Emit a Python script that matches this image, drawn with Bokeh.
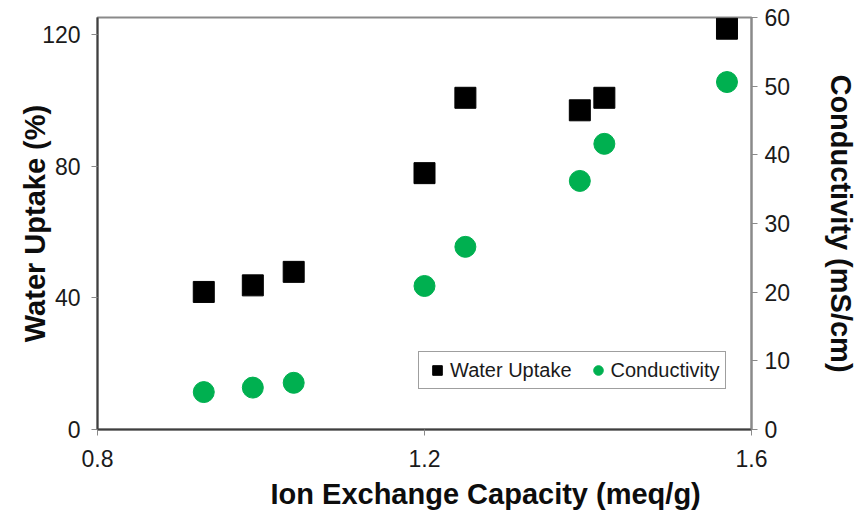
from bokeh.plotting import figure
from bokeh.models import (LinearAxis, Range1d, FixedTicker, Legend, LegendItem,
                          Title, ColumnDataSource)
from bokeh.embed import file_html
from bokeh.resources import INLINE

# ---- data ----
ion_capacity = [0.93, 0.99, 1.04, 1.20, 1.25, 1.39, 1.42, 1.57]
water_uptake = [41.8, 43.8, 47.9, 77.9, 100.8, 97.0, 100.8, 121.8]
conductivity = [5.45, 6.1, 6.8, 20.9, 26.6, 36.2, 41.6, 50.6]

x_ticks = [0.8, 1.2, 1.6]
left_ticks = [0, 40, 80, 120]
right_ticks = [0, 10, 20, 30, 40, 50, 60]

FONT = "Liberation Sans"
GREEN = "#00B050"

src = ColumnDataSource(dict(x=ion_capacity, wu=water_uptake, cond=conductivity))

p = figure(width=860, height=517, output_backend="svg", toolbar_location=None,
           x_range=Range1d(0.8, 1.6), y_range=Range1d(0, 125.2),
           min_border_left=97, min_border_right=100, min_border_top=17,
           min_border_bottom=88)
p.extra_y_ranges = {"cond": Range1d(0, 60)}

p.xgrid.visible = False
p.ygrid.visible = False
p.background_fill_color = "white"
p.border_fill_color = "white"
p.outline_line_color = "#8a8a8a"
p.outline_line_width = 2

# bottom axis
xa = p.xaxis[0]
xa.ticker = FixedTicker(ticks=x_ticks)
# left axis
ya = p.yaxis[0]
ya.ticker = FixedTicker(ticks=left_ticks)
ya.axis_label = "Water Uptake (%)"
ya.axis_label_standoff = -12

ra = LinearAxis(y_range_name="cond", ticker=FixedTicker(ticks=right_ticks),
                axis_label="Conductivity (mS/cm)")
ra.axis_label_standoff = 32
p.add_layout(ra, "right")

for ax, line_col in ((xa, "#3f3f3f"), (ya, "#3f3f3f"), (ra, "#8a8a8a")):
    ax.axis_line_color = line_col
    ax.axis_line_width = 2
    ax.major_tick_line_color = "#8a8a8a"
    ax.major_tick_line_width = 1
    ax.major_tick_out = 6
    ax.major_tick_in = 0
    ax.minor_tick_line_color = None
    ax.major_label_text_font = FONT
    ax.major_label_text_font_size = "23px"
    ax.major_label_text_color = "#1a1a1a"
    ax.axis_label_text_font = FONT
    ax.axis_label_text_font_size = "29px"
    ax.axis_label_text_font_style = "bold"
    ax.axis_label_text_color = "#0d0d0d"

xa.major_label_standoff = 14
ya.major_label_standoff = 11
ra.major_label_standoff = 7

xtitle = Title(text="Ion Exchange Capacity (meq/g)", align="left", offset=173,
               text_font=FONT, text_font_size="29px", text_font_style="bold",
               text_color="#0d0d0d", standoff=13)
p.add_layout(xtitle, "below")

r_wu = p.scatter("x", "wu", source=src, marker="square", size=21,
                 fill_color="black", line_color="black")
r_cd = p.scatter("x", "cond", source=src, marker="circle", size=21,
                 fill_color=GREEN, line_color=GREEN, y_range_name="cond")

legend = Legend(items=[LegendItem(label="Water Uptake", renderers=[r_wu]),
                       LegendItem(label="Conductivity", renderers=[r_cd])],
                orientation="horizontal", location=(321, 40),
                glyph_width=24, glyph_height=24, padding=6, spacing=14,
                label_standoff=1, margin=0,
                label_text_font=FONT, label_text_font_size="20px",
                label_text_color="#1a1a1a",
                border_line_color="#404040", border_line_width=1,
                background_fill_color="white", background_fill_alpha=1)
p.add_layout(legend, "center")

open("out.html", "w").write(file_html(p, INLINE))
